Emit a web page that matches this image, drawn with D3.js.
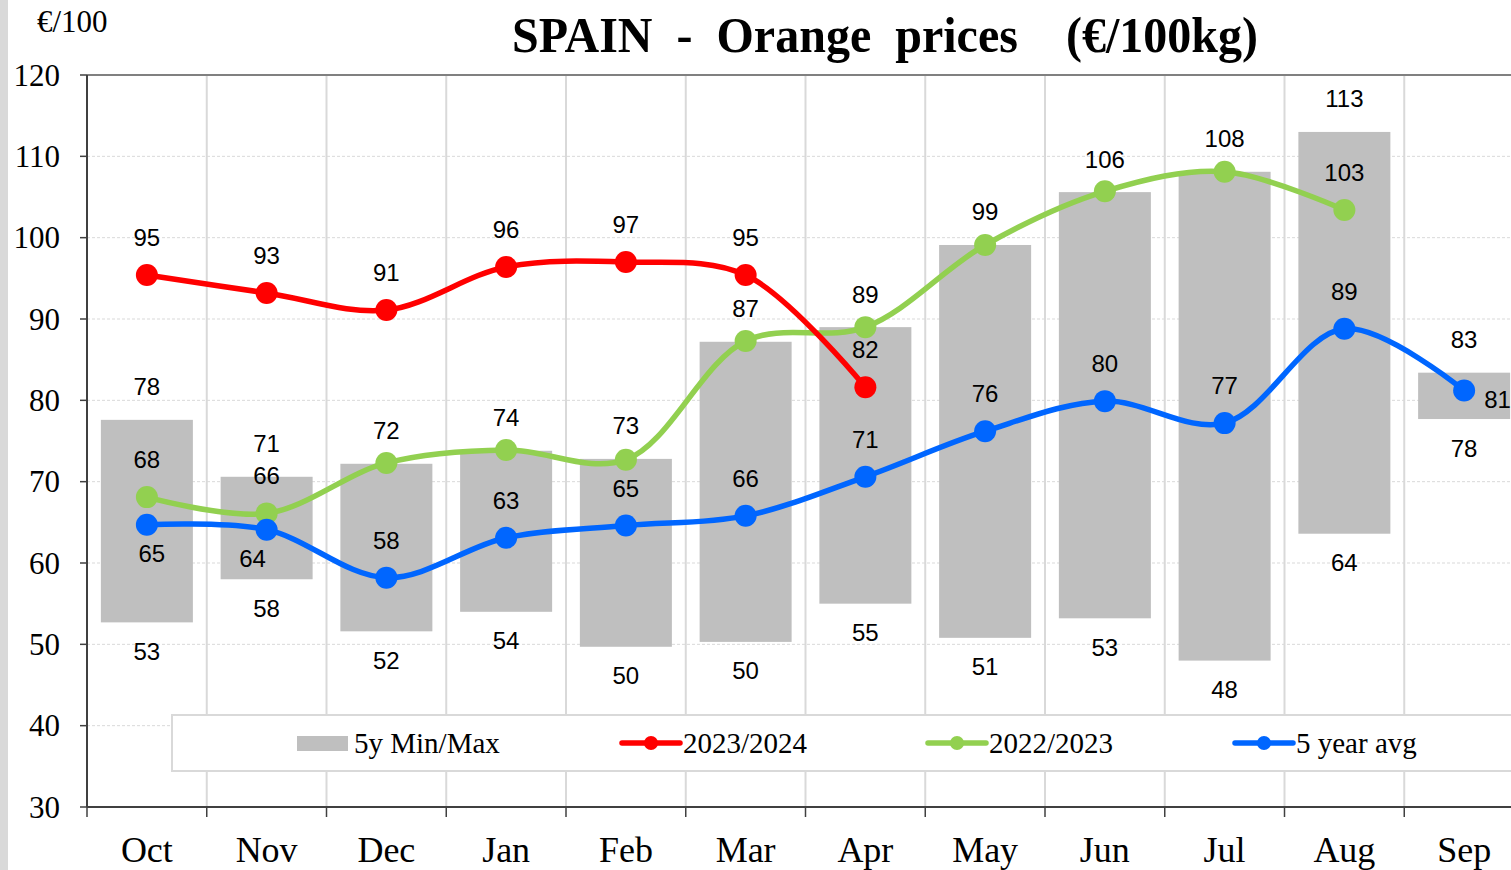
<!DOCTYPE html>
<html>
<head>
<meta charset="utf-8">
<script src="https://cdn.jsdelivr.net/npm/d3@7"></script>
<style>
  html, body { margin: 0; padding: 0; background: #fff; overflow: hidden; }
  svg { display: block; }
  .serif { font-family: "Liberation Serif", "Times New Roman", serif; }
  .num { font-family: "Liberation Sans", Arial, sans-serif; font-size: 24px; fill: #000; }
</style>
</head>
<body>
<svg id="chart" width="1511" height="870"></svg>
<script>
// chart data
const months = ['Oct', 'Nov', 'Dec', 'Jan', 'Feb', 'Mar', 'Apr', 'May', 'Jun', 'Jul', 'Aug', 'Sep']
const minValues = [52.7, 58.0, 51.6, 54.0, 49.7, 50.3, 55.0, 50.8, 53.2, 48.0, 63.6, 77.7]
const maxValues = [77.6, 70.6, 72.2, 73.8, 72.8, 87.2, 89.0, 99.1, 105.6, 108.1, 113.0, 83.4]
const season2324 = [95.4, 93.2, 91.1, 96.4, 97.0, 95.4, 81.6, null, null, null, null, null]
const season2223 = [68.1, 66.1, 72.3, 73.9, 72.7, 87.3, 89.0, 99.1, 105.7, 108.1, 103.4, null]
const avg5y = [64.7, 64.1, 58.2, 63.1, 64.6, 65.8, 70.6, 76.2, 79.9, 77.2, 88.8, 81.2]
const yTicks = [30, 40, 50, 60, 70, 80, 90, 100, 110, 120]

let svg = d3.select('#chart')
let plotLeft = 87
let plotTop = 75
let plotBottom = 807
let band = 119.75

let x = d3.scaleBand().domain(months).range([plotLeft, plotLeft + band * months.length])
let y = d3.scaleLinear().domain([30, 120]).range([plotBottom, plotTop])
let fmt = function (v) { return String(Math.round(v)) }

// grey strip on the far left
svg.append('rect').attr('x', 0).attr('y', 0).attr('width', 8).attr('height', 870).attr('fill', '#d9d9d9')

// horizontal dotted grid
svg.append('g').selectAll('line')
  .data(yTicks.slice(1, -1))
  .enter().append('line')
  .attr('x1', plotLeft).attr('x2', 1511)
  .attr('y1', function (d) { return y(d) }).attr('y2', function (d) { return y(d) })
  .attr('stroke', '#d9d9d9').attr('stroke-width', 1).attr('stroke-dasharray', '3,2')

// vertical grid at the month boundaries
svg.append('g').selectAll('line')
  .data(months.slice(1))
  .enter().append('line')
  .attr('x1', function (d) { return x(d) }).attr('x2', function (d) { return x(d) })
  .attr('y1', plotTop).attr('y2', plotBottom)
  .attr('stroke', '#d9d9d9').attr('stroke-width', 2)

// legend box sits over the grid
svg.append('rect')
  .attr('x', 172).attr('y', 715).attr('width', 1360).attr('height', 56)
  .attr('fill', '#fff').attr('stroke', '#d9d9d9').attr('stroke-width', 2)

// min/max bars
let barW = 92
svg.append('g').selectAll('rect')
  .data(months)
  .enter().append('rect')
  .attr('x', function (d) { return x(d) + (band - barW) / 2 })
  .attr('width', barW)
  .attr('y', function (d, i) { return y(maxValues[i]) })
  .attr('height', function (d, i) { return y(minValues[i]) - y(maxValues[i]) })
  .attr('fill', '#bfbfbf')

let cx = function (i) { return x(months[i]) + band / 2 }

// bar labels
let barLabels = svg.append('g').attr('class', 'num').attr('text-anchor', 'middle')
months.forEach(function (m, i) {
  barLabels.append('text').attr('x', cx(i)).attr('y', y(maxValues[i]) - 24.5).text(fmt(maxValues[i]))
  barLabels.append('text').attr('x', cx(i)).attr('y', y(minValues[i]) + 37.5).text(fmt(minValues[i]))
})

// axes
svg.append('line').attr('x1', plotLeft).attr('x2', 1511).attr('y1', plotTop).attr('y2', plotTop)
  .attr('stroke', '#808080').attr('stroke-width', 2)
svg.append('line').attr('x1', plotLeft).attr('x2', plotLeft).attr('y1', plotTop).attr('y2', plotBottom)
  .attr('stroke', '#404040').attr('stroke-width', 2)
svg.append('line').attr('x1', plotLeft).attr('x2', 1511).attr('y1', plotBottom).attr('y2', plotBottom)
  .attr('stroke', '#404040').attr('stroke-width', 2)

let yAxis = svg.append('g').attr('class', 'serif')
yTicks.forEach(function (t) {
  yAxis.append('line').attr('x1', plotLeft - 7).attr('x2', plotLeft).attr('y1', y(t)).attr('y2', y(t))
    .attr('stroke', '#404040').attr('stroke-width', 1.5)
  yAxis.append('text').attr('x', 60).attr('y', y(t) + 10.5)
    .attr('text-anchor', 'end').attr('font-size', 31).text(t)
})

let xAxis = svg.append('g').attr('class', 'serif')
months.forEach(function (m, i) {
  xAxis.append('line').attr('x1', x(m)).attr('x2', x(m)).attr('y1', plotBottom).attr('y2', plotBottom + 10)
    .attr('stroke', '#404040').attr('stroke-width', 1.5)
  xAxis.append('text').attr('x', cx(i)).attr('y', 862)
    .attr('text-anchor', 'middle').attr('font-size', 36).text(m)
})

// series
let series = [
  { name: '2022/2023', values: season2223, color: '#92d050' },
  { name: '5 year avg', values: avg5y, color: '#0066ff' },
  { name: '2023/2024', values: season2324, color: '#ff0000' }
]

let line = d3.line()
  .defined(function (d) { return d != null })
  .x(function (d, i) { return cx(i) })
  .y(function (d) { return y(d) })
  .curve(d3.curveCatmullRom.alpha(0.5))

series.forEach(function (s) {
  svg.append('path')
    .attr('d', line(s.values))
    .attr('fill', 'none')
    .attr('stroke', s.color)
    .attr('stroke-width', 5.5)
  svg.append('g').selectAll('circle')
    .data(s.values.map(function (v, i) { return { v: v, i: i } }).filter(function (d) { return d.v != null }))
    .enter().append('circle')
    .attr('cx', function (d) { return cx(d.i) })
    .attr('cy', function (d) { return y(d.v) })
    .attr('r', 11)
    .attr('fill', s.color)
})

// point labels
let avgSide = ['below', 'below', 'above', 'above', 'above', 'above', 'above', 'above', 'above', 'above', 'above', 'right']
let ptLabels = svg.append('g').attr('class', 'num').attr('text-anchor', 'middle')
season2324.forEach(function (v, i) {
  if (v == null) return
  ptLabels.append('text').attr('x', cx(i)).attr('y', y(v) - 29).text(fmt(v))
})
season2223.forEach(function (v, i) {
  // where the 2022/2023 point sits on the bar top, the bar label already shows it
  if (v == null || fmt(v) === fmt(maxValues[i])) return
  ptLabels.append('text').attr('x', cx(i)).attr('y', y(v) - 29).text(fmt(v))
})
avg5y.forEach(function (v, i) {
  let t = ptLabels.append('text').text(fmt(v))
  if (avgSide[i] === 'below') {
    t.attr('x', cx(i) + (i === 0 ? 5 : -14)).attr('y', y(v) + 37.5)
  } else if (avgSide[i] === 'right') {
    t.attr('x', cx(i) + 20).attr('y', y(v) + 17).attr('text-anchor', 'start')
  } else {
    t.attr('x', cx(i)).attr('y', y(v) - 29)
  }
})

// legend
let legend = svg.append('g').attr('class', 'serif').attr('font-size', 29)
legend.append('rect').attr('x', 297).attr('y', 736).attr('width', 51).attr('height', 15).attr('fill', '#bfbfbf')
legend.append('text').attr('x', 354).attr('y', 753).text('5y Min/Max')
let legendItems = [
  { label: '2023/2024', color: '#ff0000', x0: 622 },
  { label: '2022/2023', color: '#92d050', x0: 928 },
  { label: '5 year avg', color: '#0066ff', x0: 1235 }
]
legendItems.forEach(function (d) {
  legend.append('line').attr('x1', d.x0).attr('x2', d.x0 + 58).attr('y1', 743).attr('y2', 743)
    .attr('stroke', d.color).attr('stroke-width', 5.5).attr('stroke-linecap', 'round')
  legend.append('circle').attr('cx', d.x0 + 29).attr('cy', 743).attr('r', 7).attr('fill', d.color)
  legend.append('text').attr('x', d.x0 + 61).attr('y', 753).text(d.label)
})

// titles
svg.append('text').attr('class', 'serif')
  .attr('x', 37).attr('y', 32).attr('font-size', 31).text('€/100')
svg.append('text').attr('class', 'serif')
  .attr('x', 512).attr('y', 52)
  .attr('font-size', 50).attr('font-weight', 'bold')
  .attr('textLength', 746).attr('lengthAdjust', 'spacingAndGlyphs')
  .style('white-space', 'pre')
  .text('SPAIN  -  Orange  prices    (€/100kg)')
</script>
</body>
</html>
